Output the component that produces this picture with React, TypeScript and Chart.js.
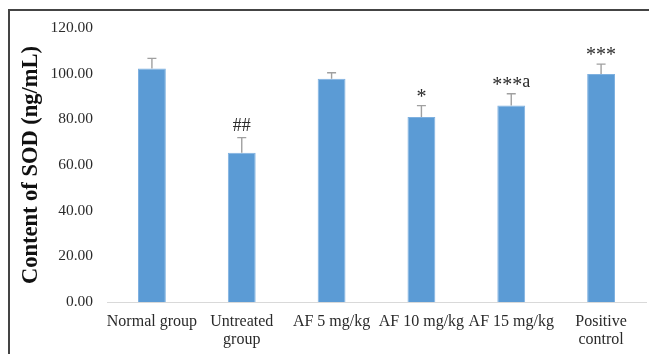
import React, { useEffect, useRef } from "react";
import { Chart, registerables } from "chart.js";

Chart.register(...registerables);

const categories: (string | string[])[] = [
  "Normal group",
  ["Untreated", "group"],
  "AF 5 mg/kg",
  "AF 10 mg/kg",
  "AF 15 mg/kg",
  ["Positive", "control"],
];
const sodValues = [102.3, 65.4, 97.8, 81.0, 86.1, 99.8];
const sodErrors = [4.4, 6.6, 2.6, 5.0, 5.1, 4.4];
const significance = ["", "##", "", "*", "***a", "***"];
const yTicks = [0, 20, 40, 60, 80, 100, 120];

const SERIF = "'Liberation Serif', 'Times New Roman', serif";

const errorBarPlugin = {
  id: "errorBarsAndMarks",
  afterDatasetsDraw(chart: any) {
    const ctx = chart.ctx;
    const meta = chart.getDatasetMeta(0);
    const y = chart.scales.y;
    ctx.save();
    meta.data.forEach((bar: any, i: number) => {
      const x = bar.x;
      const top = y.getPixelForValue(sodValues[i]);
      const errTop = y.getPixelForValue(sodValues[i] + sodErrors[i]);
      ctx.strokeStyle = "#a0a0a0";
      ctx.lineWidth = 1.4;
      ctx.beginPath();
      ctx.moveTo(x, top);
      ctx.lineTo(x, errTop);
      ctx.moveTo(x - 4.5, errTop);
      ctx.lineTo(x + 4.5, errTop);
      ctx.stroke();
      const mark = significance[i];
      if (mark) {
        const center = errTop - 13;
        const chars = mark.split("");
        const fontFor = (c: string) => (c === "*" ? `20px ${SERIF}` : `18px ${SERIF}`);
        let total = 0;
        const widths = chars.map((c) => {
          ctx.font = fontFor(c);
          const w = ctx.measureText(c).width;
          total += w;
          return w;
        });
        let cx = x - total / 2;
        ctx.fillStyle = "#2a2a2a";
        ctx.textAlign = "left";
        ctx.textBaseline = "alphabetic";
        chars.forEach((c, k) => {
          ctx.font = fontFor(c);
          const base = c === "*" ? center + 10 : center + 6;
          ctx.fillText(c, cx, base);
          cx += widths[k];
        });
      }
    });
    ctx.restore();
  },
};

export default function App() {
  const canvasRef = useRef<HTMLCanvasElement | null>(null);

  useEffect(() => {
    if (!canvasRef.current) return;
    const chart = new Chart(canvasRef.current, {
      type: "bar",
      data: {
        labels: categories,
        datasets: [
          {
            data: sodValues,
            backgroundColor: "#5b9bd5",
            borderColor: "#7fb1e0",
            borderWidth: 1,
            barPercentage: 0.31,
            categoryPercentage: 1,
          },
        ],
      },
      options: {
        animation: false,
        responsive: false,
        maintainAspectRatio: false,
        layout: { padding: { top: 28, right: 3, bottom: 0, left: 0 } },
        plugins: {
          legend: { display: false },
          tooltip: { enabled: false },
        },
        scales: {
          x: {
            grid: { display: false, drawTicks: false },
            border: { display: true, color: "#d9d9d9", width: 1 },
            ticks: {
              color: "#2a2a2a",
              padding: 11,
              maxRotation: 0,
              autoSkip: false,
              font: { family: SERIF, size: 16, lineHeight: 1.1 },
            },
            afterFit: (scale: any) => {
              scale.height = 52;
            },
          },
          y: {
            min: 0,
            max: 120,
            afterBuildTicks: (scale: any) => {
              scale.ticks = yTicks.map((v) => ({ value: v }));
            },
            grid: { display: false, drawTicks: false },
            border: { display: false },
            ticks: {
              color: "#2a2a2a",
              padding: 14,
              callback: (v: any) => Number(v).toFixed(2),
              font: { family: SERIF, size: 15.5 },
            },
            title: {
              display: true,
              text: "Content of SOD (ng/mL)",
              color: "#111111",
              font: { family: SERIF, size: 22.5, weight: "bold" },
              padding: { top: 18, bottom: 0 },
            },
            afterFit: (scale: any) => {
              scale.width = 107;
            },
          },
        },
      },
      plugins: [errorBarPlugin],
    });
    return () => chart.destroy();
  }, []);

  return (
    <div style={{ position: "fixed", left: 0, top: 0, width: 649, height: 354, background: "#ffffff" }}>
      <canvas ref={canvasRef} width={649} height={354} style={{ display: "block" }} />
      <div
        style={{
          position: "absolute",
          left: 8,
          top: 9,
          right: 0,
          bottom: 0,
          borderTop: "2px solid #444444",
          borderLeft: "2px solid #444444",
          pointerEvents: "none",
        }}
      />
    </div>
  );
}
